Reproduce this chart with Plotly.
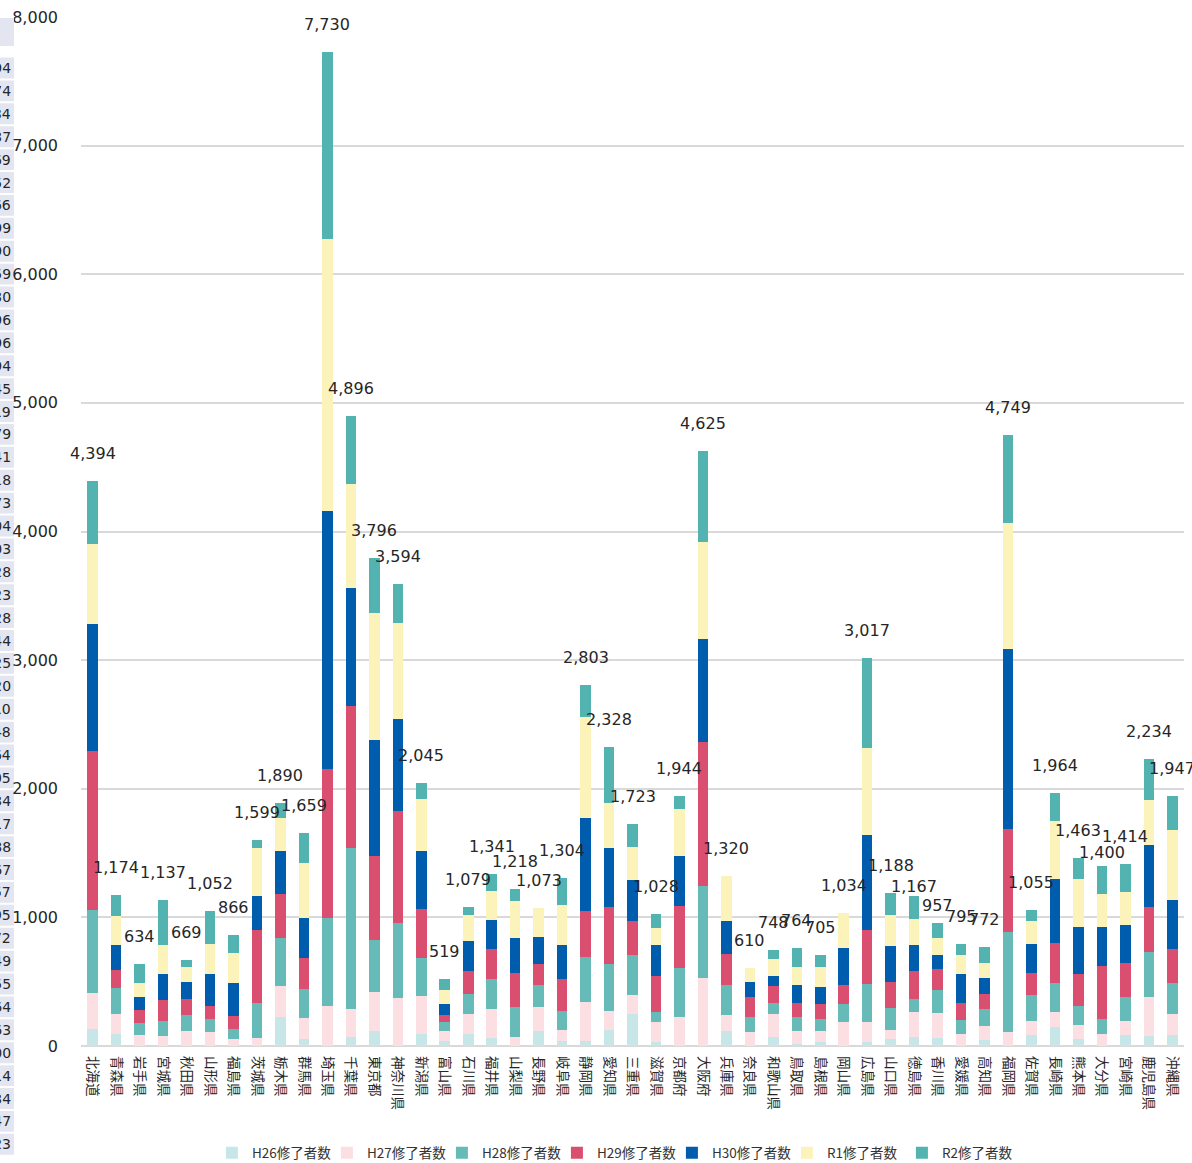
import plotly.graph_objects as go

prefs = ["北海道", "青森県", "岩手県", "宮城県", "秋田県", "山形県", "福島県", "茨城県", "栃木県", "群馬県",
         "埼玉県", "千葉県", "東京都", "神奈川県", "新潟県", "富山県", "石川県", "福井県", "山梨県", "長野県",
         "岐阜県", "静岡県", "愛知県", "三重県", "滋賀県", "京都府", "大阪府", "兵庫県", "奈良県", "和歌山県",
         "鳥取県", "島根県", "岡山県", "広島県", "山口県", "徳島県", "香川県", "愛媛県", "高知県", "福岡県",
         "佐賀県", "長崎県", "熊本県", "大分県", "宮崎県", "鹿児島県", "沖縄県"]

H26 = [135, 91, 0, 0, 0, 0, 0, 0, 226, 57, 0, 70, 115, 0, 95, 38, 97, 61, 0, 115, 38, 38, 128, 245, 35, 0, 0,
       115, 0, 68, 14, 35, 0, 35, 56, 72, 61, 0, 43, 0, 89, 146, 51, 0, 87, 76, 84]
H27 = [280, 161, 88, 75, 117, 112, 55, 65, 242, 161, 309, 216, 303, 375, 292, 75, 148, 223, 68, 190, 83, 306,
       148, 155, 150, 227, 525, 125, 105, 177, 99, 80, 185, 150, 65, 191, 194, 95, 116, 105, 104, 117, 114, 95,
       106, 304, 161]
H28 = [641, 200, 93, 117, 127, 101, 75, 273, 369, 229, 686, 1254, 405, 583, 296, 70, 156, 235, 234, 168, 155,
       350, 358, 311, 81, 381, 720, 236, 122, 93, 111, 96, 145, 296, 178, 101, 177, 106, 130, 783, 202, 228,
       144, 117, 187, 347, 241]
H29 = [1234, 138, 99, 169, 125, 99, 101, 564, 343, 234, 1155, 1107, 658, 871, 384, 57, 186, 237, 267, 166, 247,
       357, 443, 260, 280, 479, 1116, 241, 156, 125, 109, 114, 146, 420, 195, 221, 163, 135, 119, 803, 174, 311,
       247, 412, 267, 355, 270]
H30 = [988, 195, 104, 197, 127, 247, 255, 267, 335, 312, 2009, 911, 896, 716, 448, 90, 233, 225, 272, 207, 261,
       721, 459, 318, 236, 394, 805, 254, 113, 85, 140, 135, 288, 743, 287, 202, 114, 222, 122, 1399, 226, 493,
       371, 300, 290, 479, 381]
R1 = [627, 223, 104, 226, 119, 236, 239, 371, 260, 426, 2112, 808, 987, 741, 402, 104, 195, 223, 285, 227, 316,
      786, 355, 257, 132, 363, 751, 349, 114, 125, 145, 153, 270, 670, 239, 204, 132, 146, 117, 976, 176, 458,
      368, 254, 264, 353, 541]
R2 = [489, 166, 146, 353, 54, 257, 141, 59, 115, 240, 1459, 530, 432, 308, 128, 85, 64, 137, 92, 0, 204, 245,
      437, 177, 114, 100, 708, 0, 0, 75, 146, 92, 0, 703, 168, 176, 116, 91, 125, 683, 84, 211, 168, 222, 213,
      320, 269]

totals = [4394, 1174, 634, 1137, 669, 1052, 866, 1599, 1890, 1659, 7730, 4896, 3796, 3594, 2045, 519, 1079,
          1341, 1218, 1073, 1304, 2803, 2328, 1723, 1028, 1944, 4625, 1320, 610, 748, 764, 705, 1034, 3017, 1188,
          1167, 957, 795, 772, 4749, 1055, 1964, 1463, 1400, 1414, 2234, 1947]
grand_total = 87423

series_names = ["H26修了者数", "H27修了者数", "H28修了者数", "H29修了者数", "H30修了者数", "R1修了者数", "R2修了者数"]
series_values = [H26, H27, H28, H29, H30, R1, R2]
series_colors = ["#c7e6e7", "#fcdfe2", "#66bbb8", "#da4f70", "#005dae", "#fcf3bb", "#52b3b0"]

# ---- layout constants (pixels) ----
W, H = 1192, 1163
ML, MR, MT, MB = 81, 8, 17, 117
PW, PH = W - ML - MR, H - MT - MB

def px_x(x):
    return (x - ML) / PW

def px_y(y):
    return 1 - (y - MT) / PH

label_shift_default = 27.5
label_shift_special = {"徳島県": 9, "香川県": 17, "大分県": 13}

fig = go.Figure()
for name, vals, color in zip(series_names, series_values, series_colors):
    fig.add_trace(go.Bar(x=prefs, y=vals, name=name, marker_color=color, marker_line_width=0))

for p, t in zip(prefs, totals):
    fig.add_annotation(x=p, y=t, text=f"{t:,}", showarrow=False, yanchor="middle",
                       yshift=label_shift_special.get(p, label_shift_default),
                       font=dict(family="DejaVu Sans", size=16, color="#262626"))

# partially visible spreadsheet column at the far left (cropped in the reference)
shapes = []
cell_color = "#e3e6f0"
shapes.append(dict(type="rect", xref="paper", yref="paper", x0=px_x(-20), x1=px_x(14),
                   y0=px_y(46), y1=px_y(18), fillcolor=cell_color, line_width=0, layer="above"))
row0, row_h = 68, 22.9
table_vals = totals + [grand_total]
for i, v in enumerate(table_vals):
    yc = row0 + i * row_h
    shapes.append(dict(type="rect", xref="paper", yref="paper", x0=px_x(-20), x1=px_x(14),
                       y0=px_y(yc + row_h / 2 - 1), y1=px_y(yc - row_h / 2 + 1),
                       fillcolor=cell_color, line_width=0, layer="below"))
    fig.add_annotation(xref="paper", yref="paper", x=px_x(13), y=px_y(yc), text=f"{v:,}",
                       showarrow=False, xanchor="right", yanchor="middle",
                       font=dict(family="DejaVu Sans", size=14, color="#262626"))

fig.update_layout(
    width=W, height=H,
    barmode="stack", bargap=0.55,
    paper_bgcolor="white", plot_bgcolor="white",
    margin=dict(l=ML, r=MR, t=MT, b=MB, autoexpand=False),
    shapes=shapes,
    showlegend=True,
    legend=dict(orientation="h", x=0.4836, xanchor="center", yref="container", y=1 - 1153 / H,
                yanchor="middle", traceorder="normal", entrywidth=70,
                font=dict(family="Noto Sans CJK JP", size=13.5, color="#333333")),
    xaxis=dict(type="category", range=[-0.5, len(prefs) - 0.5], autorange=False,
               tickangle=90, tickfont=dict(family="Noto Sans CJK JP", size=13.5, color="#262626"),
               showgrid=False, showline=False, ticks="", ticklabelstandoff=9, automargin=False),
    yaxis=dict(range=[0, 8000], autorange=False, dtick=1000, tickformat=",", showgrid=True,
               gridcolor="#d9d9d9", gridwidth=1.5, zeroline=True, zerolinecolor="#d9d9d9",
               zerolinewidth=1.5, tickfont=dict(family="DejaVu Sans", size=16, color="#262626"),
               ticks="", ticklabelstandoff=22, automargin=False),
)

fig.write_html("out.html", config={"displayModeBar": False},
               post_script="document.body.style.margin='0px';")
